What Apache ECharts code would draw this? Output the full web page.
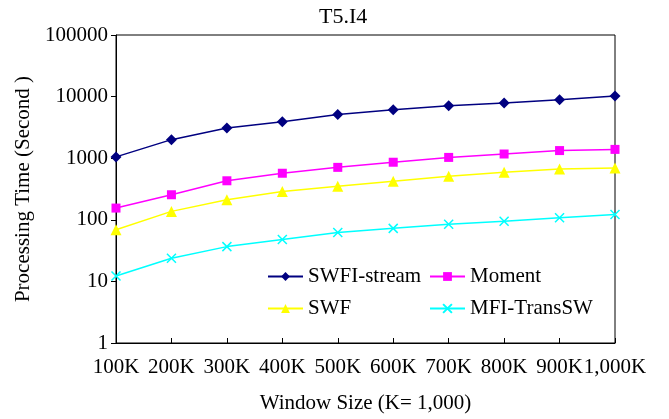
<!DOCTYPE html>
<html>
<head>
<meta charset="utf-8">
<script src="https://cdn.jsdelivr.net/npm/echarts@6/dist/echarts.min.js"></script>
<style>
  html, body { margin: 0; padding: 0; background: #fff; }
  #chart { width: 669px; height: 419px; }
</style>
</head>
<body>
<div id="chart"></div>
<script>
// window sizes along x
var windowSizes = ['100K', '200K', '300K', '400K', '500K', '600K', '700K', '800K', '900K', '1,000K']

// processing time, seconds
var swfiStream = [1050, 2000, 3100, 3900, 5100, 6100, 7100, 7900, 8900, 10200]
var moment = [155, 255, 430, 570, 710, 860, 1030, 1170, 1330, 1390]
var swf = [69, 137, 212, 287, 350, 424, 508, 592, 670, 692]
var mfiTransSW = [12.2, 23.7, 36.7, 48, 62, 72.6, 84.5, 95, 108, 122]

var fontFam = '"Liberation Serif", "DejaVu Serif", serif'
var crossPath = 'path://M0,0L10,10M10,0L0,10'

var chart = echarts.init(document.getElementById('chart'))

function makeSeries(name, data, color, symbol, size) {
  var s = {
    name: name,
    type: 'line',
    data: data,
    symbol: symbol,
    symbolSize: size,
    color: color,
    lineStyle: { color: color, width: 1.5 },
    itemStyle: { color: color },
    animation: false
  }
  if (symbol === crossPath) {
    s.itemStyle = { color: 'rgba(0,0,0,0)', borderColor: color, borderWidth: 1.5 }
  }
  return s
}

function legendAt(name, left, top) {
  return {
    data: [name],
    left: left,
    top: top,
    itemWidth: 35,
    itemHeight: 11,
    itemGap: 4,
    textStyle: { fontFamily: fontFam, fontSize: 21, color: '#000' }
  }
}

chart.setOption({
  backgroundColor: '#fff',
  title: {
    text: 'T5.I4',
    left: 314,
    top: 1,
    textStyle: { fontFamily: fontFam, fontSize: 22, fontWeight: 'normal', color: '#000' }
  },
  legend: [
    legendAt('SWFI-stream', 262, 261),
    legendAt('Moment', 424, 261),
    legendAt('SWF', 262, 293),
    legendAt('MFI-TransSW', 424, 293)
  ],
  grid: {
    left: 116, right: 54, top: 35, bottom: 75,
    show: true, borderColor: '#000', borderWidth: 1
  },
  xAxis: {
    type: 'category',
    data: windowSizes,
    boundaryGap: false,
    name: 'Window Size (K= 1,000)',
    nameLocation: 'middle',
    nameGap: 50,
    nameTextStyle: { fontFamily: fontFam, fontSize: 21, color: '#000' },
    axisLine: { lineStyle: { color: '#000', width: 1 } },
    axisTick: { inside: true, length: 5, alignWithLabel: true, lineStyle: { color: '#000' } },
    axisLabel: { fontFamily: fontFam, fontSize: 21, color: '#000', margin: 14, interval: 0 },
    splitLine: { show: false }
  },
  yAxis: {
    type: 'log',
    logBase: 10,
    min: 1,
    max: 100000,
    name: 'Processing Time (Second )',
    nameLocation: 'middle',
    nameGap: 77,
    nameTextStyle: { fontFamily: fontFam, fontSize: 21, color: '#000' },
    axisLine: { show: true, lineStyle: { color: '#000', width: 1 } },
    axisTick: { show: true, length: 5, lineStyle: { color: '#000' } },
    axisLabel: {
      fontFamily: fontFam, fontSize: 21, color: '#000', margin: 8,
      formatter: function(v) { return String(v) }
    },
    splitLine: { show: false }
  },
  series: [
    makeSeries('SWFI-stream', swfiStream, '#000080', 'diamond', 11),
    makeSeries('Moment', moment, '#FF00FF', 'rect', 9),
    makeSeries('SWF', swf, '#FFFF00', 'triangle', 11),
    makeSeries('MFI-TransSW', mfiTransSW, '#00FFFF', crossPath, 9)
  ]
})
</script>
</body>
</html>
